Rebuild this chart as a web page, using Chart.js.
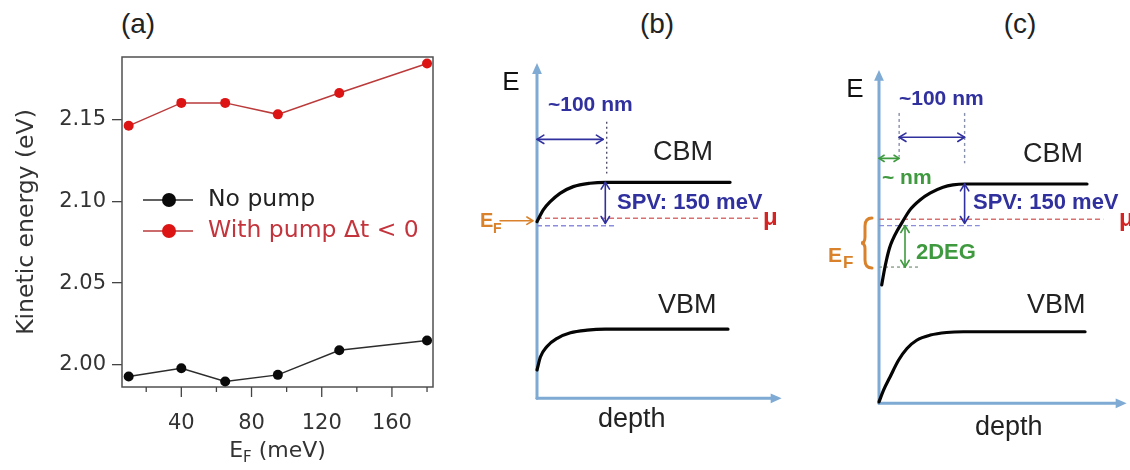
<!DOCTYPE html>
<html><head><meta charset="utf-8">
<script src="https://cdn.jsdelivr.net/npm/chart.js@4.4.1/dist/chart.umd.min.js"></script>
<style>
html,body{margin:0;padding:0;background:#fff;}
#wrap{position:relative;width:1130px;height:470px;overflow:hidden;background:#fff;}
canvas{position:absolute;top:0;}
.lbl{position:absolute;top:8px;font:28px "Liberation Sans",Arial,sans-serif;color:#222;transform:translateX(-50%);white-space:nowrap;line-height:32px}
</style></head><body>
<div id="wrap">
<div class="lbl" style="left:138px">(a)</div>
<div class="lbl" style="left:657px">(b)</div>
<div class="lbl" style="left:1020px">(c)</div>
<canvas id="ca"></canvas>
<canvas id="cb"></canvas>
<canvas id="cc"></canvas>
</div>
<script>
// ---------- Panel (a) data ----------
const efMeV = [10, 40, 65, 95, 130, 180];
const noPumpEV = [1.993, 1.998, 1.990, 1.994, 2.009, 2.015];
const withPumpEV = [2.146, 2.160, 2.160, 2.153, 2.166, 2.184];
const seriesNames = ['No pump', 'With pump \u0394t < 0'];
const xTickValues = [20, 40, 60, 80, 100, 120, 140, 160, 180];
const xTickLabels = [40, 80, 120, 160];
const yTickValues = [2.00, 2.05, 2.10, 2.15];
const yAxisTitle = 'Kinetic energy (eV)';

// ---------- Panel (b) schematic data: depth (nm) vs energy relative to mu (meV) ----------
const bCbmDepth = [0, 9, 19, 33, 52, 76, 98, 277];
const bCbmEnergy = [-14, 35, 69, 104, 132, 146, 150, 150];
const bVbmDepth = [0, 5, 14, 29, 48, 72, 98, 274];
const bVbmEnergy = [-632, -577, -535, -500, -477, -466, -462, -462];

// ---------- Panel (c) schematic data ----------
const cCbmDepth = [4.2, 7.7, 11.5, 16.2, 21.5, 27.7, 35.4, 47.7, 63.1, 78.5, 98.5, 113.8, 131.8, 320];
const cCbmEnergy = [-279, -224, -173, -122, -84, -50, -14, 40, 82, 111, 136, 146, 150, 150];
const cVbmDepth = [0, 7, 17, 30, 43, 58, 79, 104, 130, 317];
const cVbmEnergy = [-776, -726, -670, -599, -549, -514, -492, -481, -478, -478];

const FONT_A = '"DejaVu Sans", Verdana, sans-serif';
const FONT_B = '"Liberation Sans", Arial, sans-serif';
const AX_BLUE = '#7eaad4';
const NAVY = '#30309e';
const GREEN = '#3f9a3f';
const ORANGE = '#d9822b';
const MU_RED = '#d42424';

// ---------- Panel (a) chart ----------
const legendTextColors = ['#222222', '#c4343c'];
const framePlugin = {
  id: 'frame',
  beforeDatasetsDraw(chart) {
    const {ctx, chartArea: a} = chart;
    ctx.save(); ctx.strokeStyle = '#505050'; ctx.lineWidth = 1.5;
    ctx.strokeRect(a.left, a.top, a.right - a.left, a.bottom - a.top);
    const xs = chart.scales.x;
    ctx.strokeStyle = '#444'; ctx.lineWidth = 1.3;
    xTickValues.forEach(v => {
      const px = xs.getPixelForValue(v);
      const len = xTickLabels.includes(v) ? 10 : 5;
      ctx.beginPath(); ctx.moveTo(px, a.bottom); ctx.lineTo(px, a.bottom + len); ctx.stroke();
    });
    ctx.restore();
  },
  afterDraw(chart) {
    const {ctx} = chart;
    ctx.save();
    // legend
    const ys = [200, 231];
    chart.data.datasets.forEach((ds, i) => {
      const y = ys[i];
      ctx.strokeStyle = ds.borderColor; ctx.lineWidth = 1.5;
      ctx.beginPath(); ctx.moveTo(143, y); ctx.lineTo(193, y); ctx.stroke();
      ctx.fillStyle = ds.pointBackgroundColor;
      ctx.beginPath(); ctx.arc(169, y, 7, 0, Math.PI * 2); ctx.fill();
      ctx.fillStyle = legendTextColors[i];
      ctx.font = '23.5px ' + FONT_A; ctx.textBaseline = 'middle'; ctx.textAlign = 'left';
      ctx.fillText(ds.label, 208, y);
    });
    // x-axis title with subscript
    const parts = [['E', '22px ' + FONT_A, 0], ['F', '15px ' + FONT_A, 5], [' (meV)', '22px ' + FONT_A, 0]];
    let total = 0;
    parts.forEach(p => { ctx.font = p[1]; total += ctx.measureText(p[0]).width; });
    const xs = chart.scales.x;
    let x = (xs.left + xs.right) / 2 - total / 2;
    ctx.fillStyle = '#333'; ctx.textBaseline = 'alphabetic';
    parts.forEach(p => { ctx.font = p[1]; ctx.fillText(p[0], x, 457 + p[2]); x += ctx.measureText(p[0]).width; });
    ctx.restore();
  }
};

const ca = document.getElementById('ca');
ca.width = 460; ca.height = 470; ca.style.left = '0px';
new Chart(ca, {
  type: 'line',
  data: {
    datasets: [
      {label: seriesNames[0], data: efMeV.map((x, i) => ({x, y: noPumpEV[i]})), borderColor: '#2c2c2c', borderWidth: 1.5,
       pointRadius: 5, pointBackgroundColor: '#0a0a0a', pointBorderColor: '#0a0a0a', pointBorderWidth: 0, tension: 0, clip: false},
      {label: seriesNames[1], data: efMeV.map((x, i) => ({x, y: withPumpEV[i]})), borderColor: '#bb3a3a', borderWidth: 1.5,
       pointRadius: 5, pointBackgroundColor: '#dc1414', pointBorderColor: '#dc1414', pointBorderWidth: 0, tension: 0, clip: false}
    ]
  },
  options: {
    responsive: false, animation: false, events: [],
    layout: {padding: {top: 57, right: 27, left: 0, bottom: 0}},
    plugins: {legend: {display: false}, tooltip: {enabled: false}},
    scales: {
      x: {type: 'linear', min: 6.2, max: 183.4,
          afterBuildTicks: s => { s.ticks = xTickValues.map(v => ({value: v})); },
          afterFit: s => { s.height = 83; },
          grid: {display: false}, border: {display: false},
          ticks: {autoSkip: false, maxRotation: 0, padding: 16, color: '#333', font: {family: FONT_A, size: 21},
                  callback: v => xTickLabels.includes(v) ? String(v) : ''}},
      y: {type: 'linear', min: 1.9866, max: 2.188,
          afterBuildTicks: s => { s.ticks = yTickValues.map(v => ({value: v})); },
          afterFit: s => { s.width = 122; },
          grid: {drawOnChartArea: false, drawTicks: true, tickLength: 10, color: '#444', lineWidth: 1.3},
          border: {display: false},
          ticks: {padding: 6, color: '#333', font: {family: FONT_A, size: 21}, callback: v => Number(v).toFixed(2)},
          title: {display: true, text: yAxisTitle, color: '#333', font: {family: FONT_A, size: 23.5}, padding: {top: 13, bottom: 0}}}
    }
  },
  plugins: [framePlugin]
});

// ---------- Schematic helper ----------
function drawArrow(ctx, x1, y1, x2, y2, spec) {
  const ang = Math.atan2(y2 - y1, x2 - x1);
  const size = spec.size || 8;
  ctx.save();
  ctx.strokeStyle = spec.color; ctx.fillStyle = spec.color; ctx.lineWidth = spec.w || 1.5;
  ctx.lineCap = 'round'; ctx.lineJoin = 'round';
  let sx = x1, sy = y1, ex = x2, ey = y2;
  if (spec.head === 'filled') { ex = x2 - Math.cos(ang) * size * 0.8; ey = y2 - Math.sin(ang) * size * 0.8; }
  ctx.beginPath(); ctx.moveTo(sx, sy); ctx.lineTo(ex, ey); ctx.stroke();
  const heads = spec.both ? [[x2, y2, ang], [x1, y1, ang + Math.PI]] : [[x2, y2, ang]];
  heads.forEach(([hx, hy, a]) => {
    const spread = spec.head === 'filled' ? 0.42 : 0.55;
    const ax = hx - Math.cos(a - spread) * size, ay = hy - Math.sin(a - spread) * size;
    const bx = hx - Math.cos(a + spread) * size, by = hy - Math.sin(a + spread) * size;
    if (spec.head === 'filled') {
      ctx.beginPath(); ctx.moveTo(hx, hy); ctx.lineTo(ax, ay); ctx.lineTo(bx, by); ctx.closePath(); ctx.fill();
    } else {
      ctx.beginPath(); ctx.moveTo(ax, ay); ctx.lineTo(hx, hy); ctx.lineTo(bx, by); ctx.stroke();
    }
  });
  ctx.restore();
}

function makeSchematic(id, cfg) {
  const cv = document.getElementById(id);
  cv.width = cfg.w; cv.height = 470; cv.style.left = cfg.left + 'px';
  const xmin = -(cfg.ox - cfg.left) / cfg.kx, xmax = (cfg.left + cfg.w - cfg.ox) / cfg.kx;
  const ymax = cfg.oy / cfg.ky, ymin = -(470 - cfg.oy) / cfg.ky;
  const datasets = [];
  cfg.dashes.forEach(d => datasets.push({
    data: d.depth.map((x, i) => ({x, y: d.energy[i]})), showLine: true, borderColor: d.color,
    borderWidth: d.w || 1.5, borderDash: d.dash, pointRadius: 0, clip: false, order: 2}));
  cfg.curves.forEach(c => datasets.push({
    data: c.depth.map((x, i) => ({x, y: c.energy[i]})), showLine: true, borderColor: '#050505',
    borderWidth: 3.2, pointRadius: 0, cubicInterpolationMode: 'monotone', clip: false, order: 1, borderCapStyle: 'round'}));
  const toPx = (chart, p) => [chart.scales.x.getPixelForValue(p[0]), chart.scales.y.getPixelForValue(p[1])];
  new Chart(cv, {
    type: 'scatter',
    data: {datasets},
    options: {
      responsive: false, animation: false, events: [],
      layout: {padding: 0},
      plugins: {legend: {display: false}, tooltip: {enabled: false}},
      scales: {x: {type: 'linear', display: false, min: xmin, max: xmax},
               y: {type: 'linear', display: false, min: ymin, max: ymax}}
    },
    plugins: [{
      id: 'schem',
      beforeDatasetsDraw(chart) {
        cfg.axes.forEach(a => { const p1 = toPx(chart, a.from), p2 = toPx(chart, a.to); drawArrow(chart.ctx, p1[0], p1[1], p2[0], p2[1], a); });
      },
      afterDatasetsDraw(chart) {
        const ctx = chart.ctx;
        cfg.arrows.forEach(a => { const p1 = toPx(chart, a.from), p2 = toPx(chart, a.to); drawArrow(ctx, p1[0], p1[1], p2[0], p2[1], a); });
        if (cfg.extra) cfg.extra(ctx, cfg.left);
        ctx.save();
        cfg.texts.forEach(t => {
          ctx.font = t.f; ctx.fillStyle = t.c; ctx.textAlign = t.a || 'left'; ctx.textBaseline = t.b || 'middle';
          ctx.fillText(t.t, t.x - cfg.left, t.y);
        });
        ctx.restore();
      }
    }]
  });
}

// ---------- Panel (b) ----------
makeSchematic('cb', {
  left: 460, w: 340, ox: 537, oy: 218.3, kx: 0.697, ky: 0.24,
  curves: [{depth: bCbmDepth, energy: bCbmEnergy}, {depth: bVbmDepth, energy: bVbmEnergy}],
  dashes: [
    {depth: [100, 100], energy: [402, 187], color: '#50506a', dash: [2, 3], w: 1.4},
    {depth: [0, 320], energy: [0, 0], color: '#d87070', dash: [5, 3], w: 1.4},
    {depth: [0, 114], energy: [-31, -31], color: '#8c8cdc', dash: [5, 3], w: 1.4}
  ],
  axes: [
    {from: [0, -750], to: [0, 647], color: AX_BLUE, w: 3, head: 'filled', size: 12},
    {from: [0, -750], to: [351, -750], color: AX_BLUE, w: 3, head: 'filled', size: 12}
  ],
  arrows: [
    {from: [0, 329], to: [95, 329], both: true, color: NAVY, w: 1.6, size: 8},
    {from: [98, 150], to: [98, -21], both: true, color: NAVY, w: 1.6, size: 8},
    {from: [-53, -10], to: [-6, -10], color: ORANGE, w: 1.6, size: 7}
  ],
  texts: [
    {t: 'E', x: 511, y: 83, f: '26px ' + FONT_B, c: '#111', a: 'center'},
    {t: '~100 nm', x: 548, y: 105, f: 'bold 21px ' + FONT_B, c: NAVY},
    {t: 'CBM', x: 653, y: 153, f: '27px ' + FONT_B, c: '#222'},
    {t: 'SPV: 150 meV', x: 617, y: 203, f: 'bold 22px ' + FONT_B, c: NAVY},
    {t: '\u03BC', x: 763, y: 225, f: 'bold 24px ' + FONT_B, c: MU_RED, b: 'alphabetic'},
    {t: 'E', x: 480, y: 227, f: 'bold 20px ' + FONT_B, c: ORANGE, b: 'alphabetic'},
    {t: 'F', x: 493, y: 233, f: 'bold 14px ' + FONT_B, c: ORANGE, b: 'alphabetic'},
    {t: 'VBM', x: 658, y: 306, f: '27px ' + FONT_B, c: '#222'},
    {t: 'depth', x: 598, y: 420, f: '27px ' + FONT_B, c: '#222'}
  ]
});

// ---------- Panel (c) ----------
makeSchematic('cc', {
  left: 800, w: 330, ox: 879, oy: 219.3, kx: 0.65, ky: 0.2353,
  curves: [{depth: cCbmDepth, energy: cCbmEnergy}, {depth: cVbmDepth, energy: cVbmEnergy}],
  dashes: [
    {depth: [31, 31], energy: [452, 266], color: '#8890aa', dash: [3, 3], w: 1.4},
    {depth: [131.7, 131.7], energy: [452, 238], color: '#8890aa', dash: [3, 3], w: 1.4},
    {depth: [0, 345], energy: [0, 0], color: '#d87070', dash: [5, 3], w: 1.4},
    {depth: [0, 155], energy: [-27, -27], color: '#8c8cdc', dash: [5, 3], w: 1.4},
    {depth: [0, 63], energy: [-203, -203], color: '#88a088', dash: [3, 3], w: 1.4}
  ],
  axes: [
    {from: [0, -782], to: [0, 635], color: AX_BLUE, w: 3, head: 'filled', size: 12},
    {from: [0, -782], to: [381, -782], color: AX_BLUE, w: 3, head: 'filled', size: 12}
  ],
  arrows: [
    {from: [31, 348.5], to: [131.7, 348.5], both: true, color: NAVY, w: 1.6, size: 8},
    {from: [0, 259], to: [31, 259], both: true, color: GREEN, w: 1.6, size: 6},
    {from: [131.7, 150], to: [131.7, -17], both: true, color: NAVY, w: 1.6, size: 8},
    {from: [40, -27], to: [40, -203], both: true, color: GREEN, w: 1.6, size: 8}
  ],
  extra: (ctx, left) => {
    ctx.save(); ctx.strokeStyle = ORANGE; ctx.lineWidth = 3; ctx.lineCap = 'round';
    const x = 872 - left;
    ctx.beginPath();
    ctx.moveTo(x, 218);
    ctx.quadraticCurveTo(x - 7, 218, x - 7, 226);
    ctx.lineTo(x - 7, 237);
    ctx.quadraticCurveTo(x - 7, 243, x - 11, 243);
    ctx.quadraticCurveTo(x - 7, 243, x - 7, 249);
    ctx.lineTo(x - 7, 260);
    ctx.quadraticCurveTo(x - 7, 268, x, 268);
    ctx.stroke(); ctx.restore();
  },
  texts: [
    {t: 'E', x: 855, y: 90, f: '26px ' + FONT_B, c: '#111', a: 'center'},
    {t: '~100 nm', x: 899, y: 99, f: 'bold 21px ' + FONT_B, c: NAVY},
    {t: 'CBM', x: 1023, y: 155, f: '27px ' + FONT_B, c: '#222'},
    {t: '~ nm', x: 882, y: 178, f: 'bold 21px ' + FONT_B, c: GREEN},
    {t: 'SPV: 150 meV', x: 973, y: 203, f: 'bold 22px ' + FONT_B, c: NAVY},
    {t: '\u03BC', x: 1119, y: 226, f: 'bold 24px ' + FONT_B, c: MU_RED, b: 'alphabetic'},
    {t: '2DEG', x: 916, y: 253, f: 'bold 22px ' + FONT_B, c: GREEN},
    {t: 'E', x: 828, y: 262, f: 'bold 21px ' + FONT_B, c: ORANGE, b: 'alphabetic'},
    {t: 'F', x: 843, y: 268, f: 'bold 17px ' + FONT_B, c: ORANGE, b: 'alphabetic'},
    {t: 'VBM', x: 1027, y: 306, f: '27px ' + FONT_B, c: '#222'},
    {t: 'depth', x: 975, y: 428, f: '27px ' + FONT_B, c: '#222'}
  ]
});
</script>
</body></html>
